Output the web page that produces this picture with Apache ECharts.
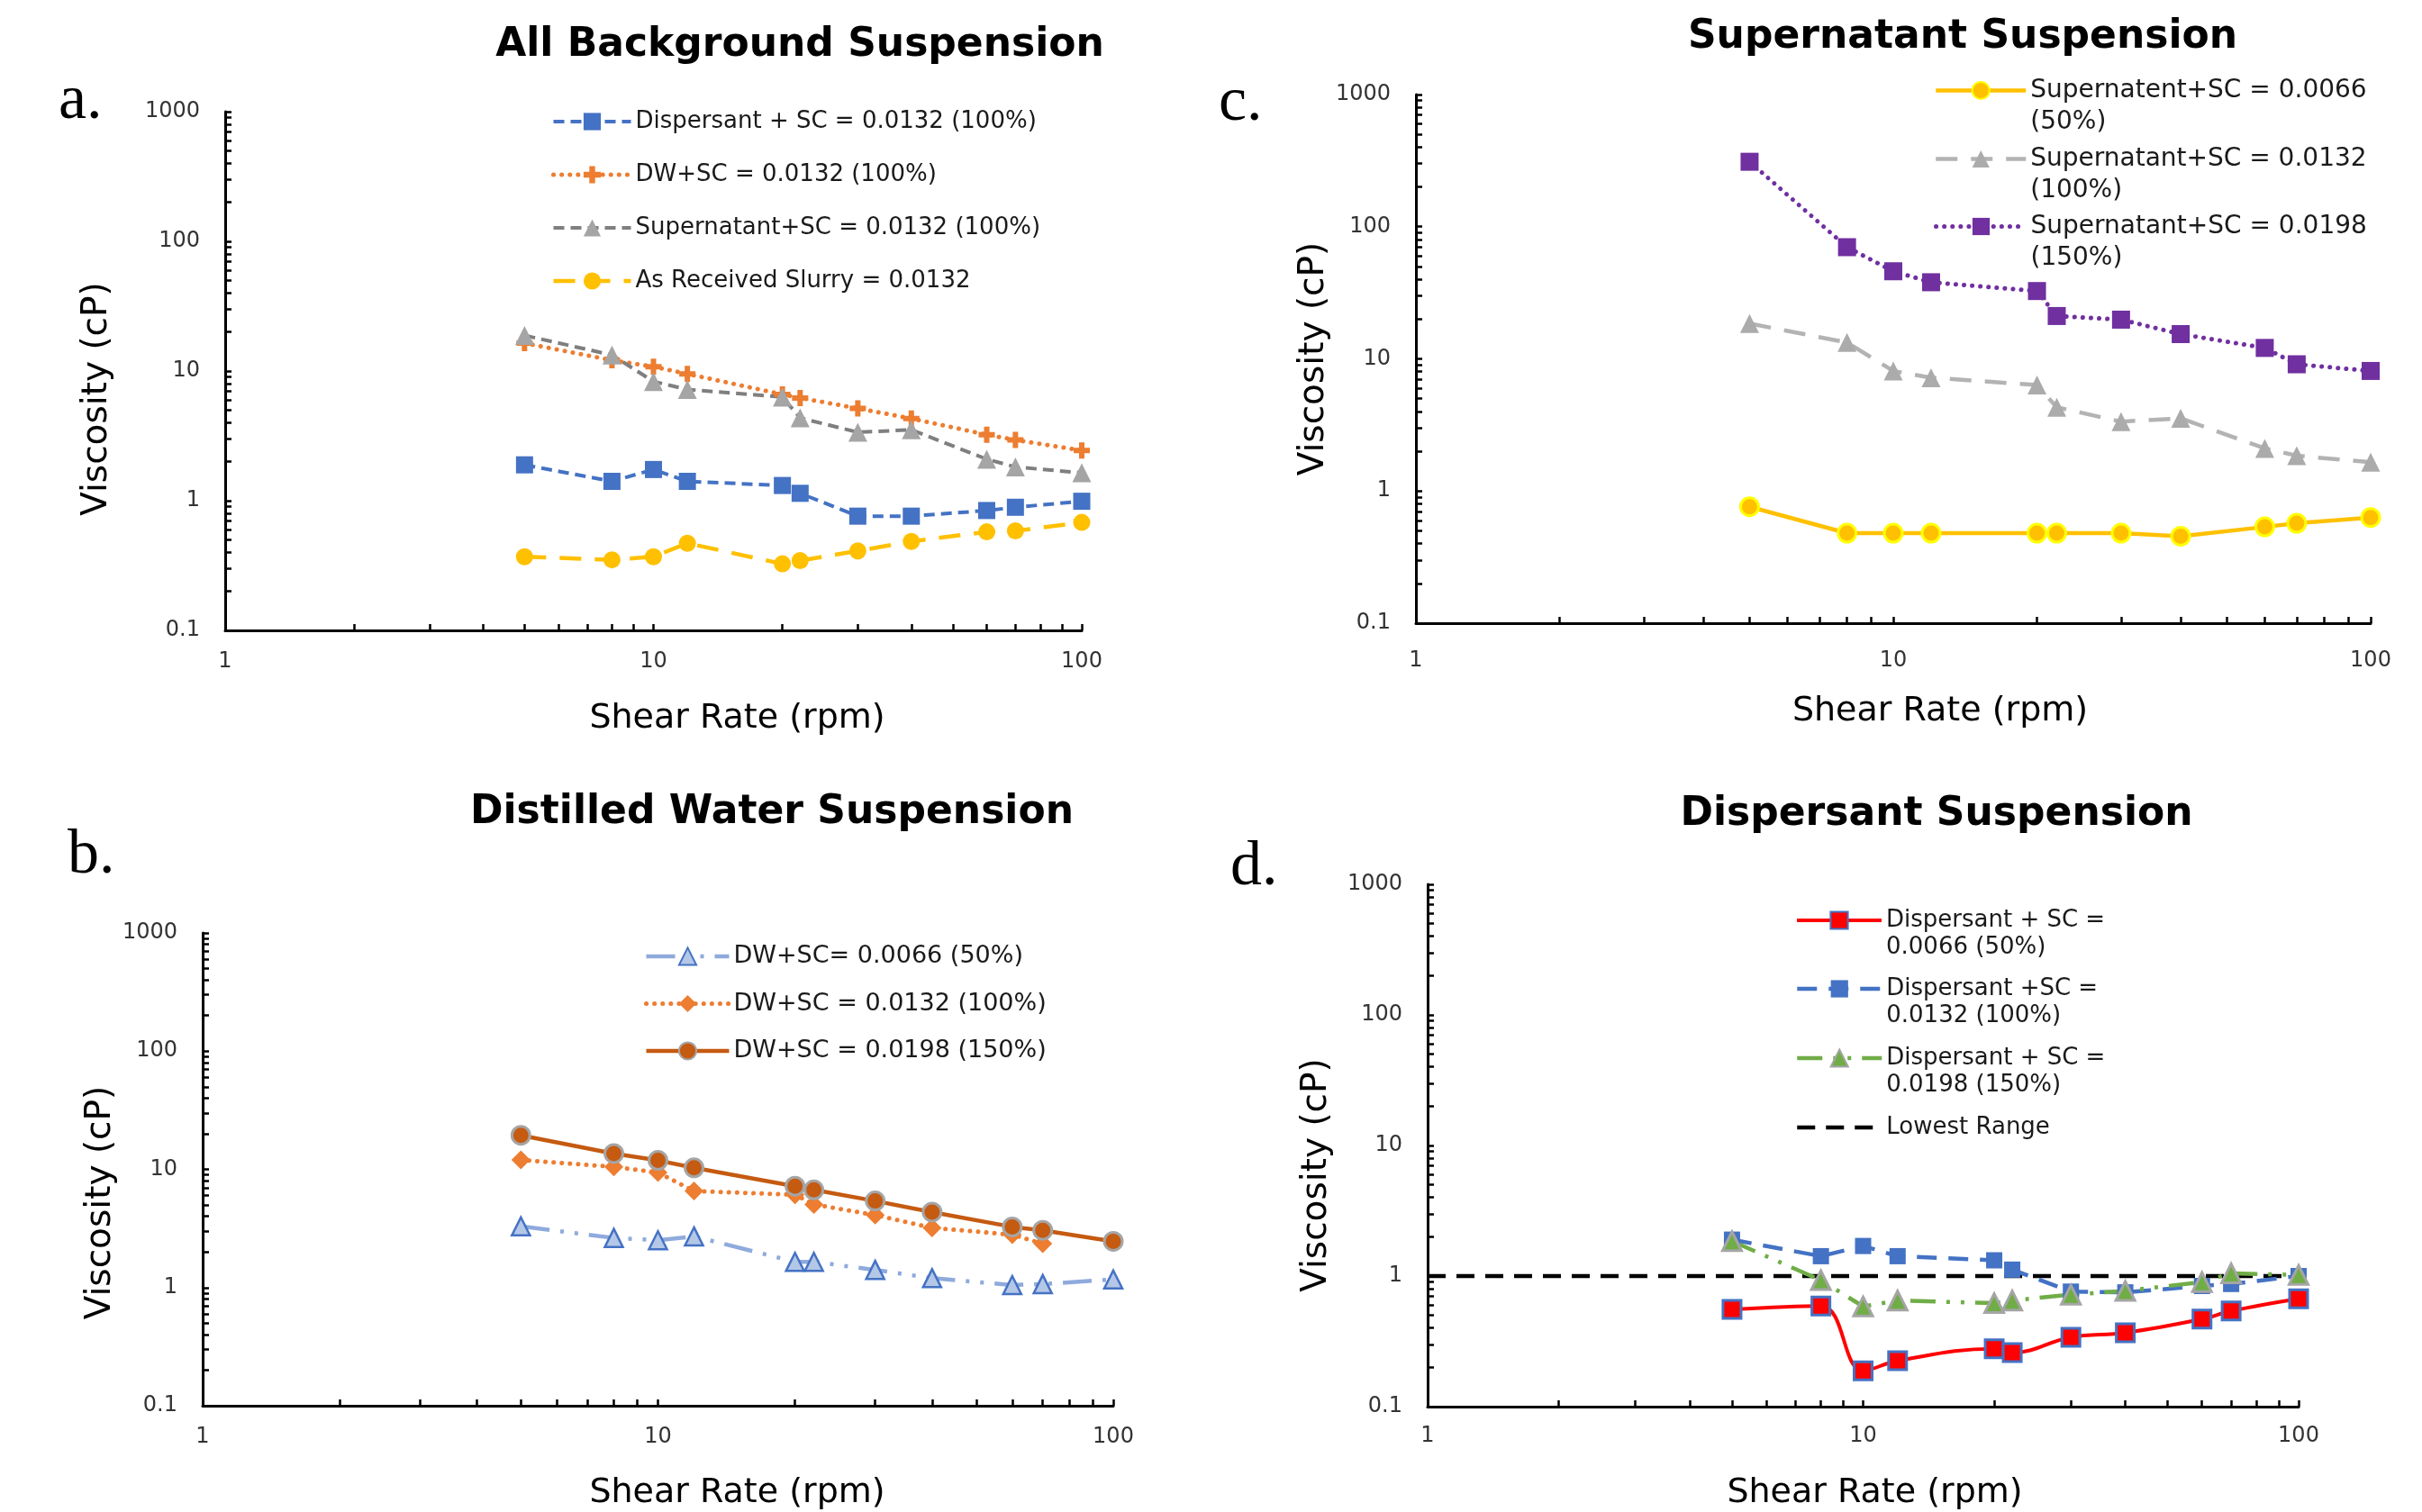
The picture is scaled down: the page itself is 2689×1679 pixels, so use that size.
<!DOCTYPE html>
<html><head><meta charset="utf-8">
<script src="https://cdn.jsdelivr.net/npm/echarts@6/dist/echarts.min.js"></script>
<style>html,body{margin:0;padding:0;background:#fff}#chart{width:2689px;height:1679px}</style>
</head><body><div id="chart"></div>
<script>
// ---------- DATA ----------
const shearRate = [5, 8, 10, 12, 20, 22, 30, 40, 60, 70, 100];

// a. All Background Suspension
const aLegend = ['Dispersant + SC = 0.0132 (100%)', 'DW+SC = 0.0132 (100%)', 'Supernatant+SC = 0.0132 (100%)', 'As Received Slurry = 0.0132'];
const aDispersant0132 = [1.89, 1.41, 1.74, 1.41, 1.31, 1.14, 0.76, 0.76, 0.84, 0.89, 0.99];
const aDW0132 = [16.4, 12.1, 10.8, 9.5, 6.6, 6.2, 5.15, 4.3, 3.23, 2.94, 2.44];
const aSupernatant0132 = [18.8, 13.3, 8.3, 7.2, 6.3, 4.35, 3.37, 3.52, 2.09, 1.82, 1.64];
const aSlurry0132 = [0.37, 0.35, 0.37, 0.47, 0.326, 0.345, 0.41, 0.485, 0.575, 0.585, 0.68];

// b. Distilled Water Suspension
const bLegend = ['DW+SC= 0.0066 (50%)', 'DW+SC = 0.0132 (100%)', 'DW+SC = 0.0198 (150%)'];
const bDW0066 = [3.3, 2.63, 2.51, 2.71, 1.65, 1.65, 1.41, 1.2, 1.05, 1.07, 1.17];
const bDW0132 = [12.0, 10.5, 9.4, 6.55, 6.1, 5.05, 4.1, 3.2, 2.8, 2.35, null];
const bDW0198 = [19.4, 13.6, 11.9, 10.3, 7.2, 6.7, 5.4, 4.35, 3.26, 3.05, 2.46];

// c. Supernatant Suspension
const cLegend = ['Supernatent+SC = 0.0066 (50%)', 'Supernatant+SC = 0.0132 (100%)', 'Supernatant+SC = 0.0198 (150%)'];
const cSup0066 = [0.76, 0.48, 0.48, 0.48, 0.48, 0.48, 0.48, 0.455, 0.535, 0.57, 0.63];
const cSup0132 = [18.5, 13.3, 8.1, 7.2, 6.35, 4.3, 3.35, 3.55, 2.1, 1.85, 1.65];
const cSup0198 = [310, 70, 46, 38, 32.6, 21.1, 19.8, 15.4, 12.1, 9.1, 8.1];

// d. Dispersant Suspension
const dLegend = ['Dispersant + SC = 0.0066 (50%)', 'Dispersant +SC = 0.0132 (100%)', 'Dispersant + SC = 0.0198 (150%)', 'Lowest Range'];
const dDisp0066 = [0.555, 0.59, 0.188, 0.225, 0.277, 0.259, 0.34, 0.368, 0.468, 0.54, 0.67];
const dDisp0132 = [1.9, 1.42, 1.7, 1.42, 1.32, 1.12, 0.76, 0.75, 0.84, 0.87, 1.0];
const dDisp0198 = [1.85, 0.93, 0.585, 0.65, 0.62, 0.65, 0.72, 0.77, 0.9, 1.05, 1.02];
const lowestRangeX = [1, 100];
const lowestRangeY = [1, 1];

// axis ticks / labels
const xTickValues = [1, 2, 3, 4, 5, 6, 7, 8, 9, 10, 20, 30, 40, 50, 60, 70, 80, 90, 100];
const xLabelValues = [1, 10, 100];
const yTickValues = [0.1, 0.2, 0.3, 0.4, 0.5, 0.6, 0.7, 0.8, 0.9, 1, 2, 3, 4, 5, 6, 7, 8, 9, 10, 20, 30, 40, 50, 60, 70, 80, 90, 100, 200, 300, 400, 500, 600, 700, 800, 900, 1000];
const yLabelValues = [0.1, 1, 10, 100, 1000];

const titles = ['All Background Suspension', 'Distilled Water Suspension', 'Supernatant Suspension', 'Dispersant Suspension'];
const panelLetters = ['a.', 'b.', 'c.', 'd.'];
const xName = 'Shear Rate (rpm)';
const yName = 'Viscosity (cP)';

// ---------- BUILD ----------
const FONT = 'DejaVu Sans';
const SUFFIX = ['#a', '#b', '#c', '#d'];
function pts(xs, ys) {
  const out = [];
  xs.forEach((x, i) => { if (ys[i] != null) out.push([x, ys[i]]); });
  return out;
}
const plusPath = 'path://M4,0H8V4H12V8H8V12H4V8H0V4H4Z';
const numFmt = v => String(+Number(v).toPrecision(6));

// grids: [left, top, width, height]
const grids = [
  [250, 124, 951, 576],   // a
  [225, 1036, 1011, 526], // b
  [1572, 105, 1060, 587], // c
  [1585, 982, 967, 581]   // d
];
const xNameCfg = [ {gap: 78, pad: 186, margin: 23}, {gap: 77, pad: 176, margin: 23}, {gap: 78, pad: 104, margin: 30}, {gap: 76, pad: 26, margin: 21} ];
const yNameCfg = [ {gap: 122, pad: 62}, {gap: 76, pad: 74}, {gap: 88, pad: 0}, {gap: 103, pad: 66} ];

const xAxes = grids.map((g, i) => ({
  type: 'log', logBase: 10, gridIndex: i, min: 1, max: 100,
  name: xName, nameLocation: 'middle', nameGap: xNameCfg[i].gap,
  nameTextStyle: { fontFamily: FONT, fontSize: 38, color: '#000', lineHeight: 40, padding: [0, 0, 0, xNameCfg[i].pad] },
  axisLine: { show: true, onZero: false, lineStyle: { color: '#000', width: 3 } },
  axisTick: { show: true, inside: true, length: 7, customValues: xTickValues, lineStyle: { color: '#000', width: 2.5 } },
  axisLabel: { show: true, customValues: xLabelValues, formatter: numFmt, margin: xNameCfg[i].margin, fontFamily: FONT, fontSize: 24, color: '#333' },
  splitLine: { show: false }, minorTick: { show: false }, minorSplitLine: { show: false }
}));
const yAxes = grids.map((g, i) => ({
  type: 'log', logBase: 10, gridIndex: i, min: 0.1, max: 1000,
  name: yName, nameLocation: 'middle', nameGap: yNameCfg[i].gap,
  nameTextStyle: { fontFamily: FONT, fontSize: 39, color: '#000', lineHeight: 40, padding: [0, yNameCfg[i].pad, 0, 0] },
  axisLine: { show: true, onZero: false, lineStyle: { color: '#000', width: 3 } },
  axisTick: { show: true, inside: true, length: 7, customValues: yTickValues, lineStyle: { color: '#000', width: 2.5 } },
  axisLabel: { show: true, customValues: yLabelValues, formatter: numFmt, margin: 28, fontFamily: FONT, fontSize: 24, color: '#333' },
  splitLine: { show: false }, minorTick: { show: false }, minorSplitLine: { show: false }
}));

function line(panel, name, ys, o) {
  return {
    type: 'line', name: name + SUFFIX[panel], xAxisIndex: panel, yAxisIndex: panel,
    data: pts(o.xs || shearRate, ys),
    symbol: o.symbol, symbolSize: o.size || 18, smooth: o.smooth || false,
    showSymbol: o.symbol !== 'none',
    lineStyle: { color: o.line, width: o.width || 4, type: o.type || 'solid', cap: o.cap || 'butt' },
    itemStyle: { color: o.fill || o.line, borderColor: o.border || o.fill || o.line, borderWidth: o.bw || 0 },
    emphasis: { disabled: true }, animation: false, z: o.z || 2
  };
}

const series = [
  // a
  line(0, aLegend[0], aDispersant0132, { line: '#4472C4', type: [12, 7], symbol: 'rect', size: 19 }),
  line(0, aLegend[1], aDW0132, { line: '#ED7D31', type: [0.1, 9], cap: 'round', width: 5, symbol: plusPath, size: 18 }),
  line(0, aLegend[2], aSupernatant0132, { line: '#7F7F7F', fill: '#A5A5A5', type: [12, 7], symbol: 'triangle', size: 21 }),
  line(0, aLegend[3], aSlurry0132, { line: '#FFC000', type: [24, 15], width: 4.5, symbol: 'circle', size: 19 }),
  // b
  line(1, bLegend[0], bDW0066, { line: '#8FAADC', fill: '#B4C7E7', border: '#4472C4', bw: 2.5, type: [32, 12, 4, 12, 4, 12], width: 4.5, symbol: 'triangle', size: 20 }),
  line(1, bLegend[1], bDW0132, { line: '#ED7D31', type: [0.1, 9], cap: 'round', width: 5, symbol: 'diamond', size: 21 }),
  line(1, bLegend[2], bDW0198, { line: '#C55A11', border: '#A5A5A5', bw: 3, width: 4.5, symbol: 'circle', size: 20 }),
  // c
  line(2, cLegend[0], cSup0066, { line: '#FFC000', fill: '#FFC000', border: '#FFFF00', bw: 3, width: 4.5, symbol: 'circle', size: 20 }),
  line(2, cLegend[1], cSup0132, { line: '#B3B3B3', fill: '#ABABAB', type: [24, 15], width: 4.5, symbol: 'triangle', size: 21 }),
  line(2, cLegend[2], cSup0198, { line: '#7030A0', type: [0.1, 9], cap: 'round', width: 5, symbol: 'rect', size: 20 }),
  // d
  line(3, dLegend[3], lowestRangeY, { xs: lowestRangeX, line: '#000', type: [20, 12], width: 4.5, symbol: 'none', z: 1 }),
  line(3, dLegend[0], dDisp0066, { line: '#FF0000', fill: '#FF0000', border: '#4472C4', bw: 3, width: 4, smooth: 0.4, symbol: 'rect', size: 20 }),
  line(3, dLegend[1], dDisp0132, { line: '#4472C4', type: [22, 13], width: 4.5, symbol: 'rect', size: 18 }),
  line(3, dLegend[2], dDisp0198, { line: '#70AD47', fill: '#70AD47', border: '#A5A5A5', bw: 3, type: [28, 12, 4, 12, 4, 12], width: 4.5, symbol: 'triangle', size: 21 })
];
const widthOf = {};
series.forEach(s => { widthOf[s.name] = s.lineStyle.width; });

const strip = n => n.split('#')[0];
function legendBlock(left, top, names, panel, o) {
  return {
    orient: 'vertical', left: left, top: top, padding: 0, selectedMode: false,
    itemWidth: o.iw, itemHeight: 24, itemGap: o.gap || 0,
    textStyle: { fontFamily: FONT, fontSize: o.fs, lineHeight: o.lh, color: '#1a1a1a' },
    formatter: o.fmt || strip,
    data: names.map(n => ({ name: n + SUFFIX[panel], lineStyle: { width: widthOf[n + SUFFIX[panel]] } }))
  };
}
// leading empty line keeps the icon level with the first text line
const wrapC = n => '\n' + strip(n).replace(' (', '\n(');
const wrapD = n => '\n' + strip(n).replace('= ', '=\n');

const legends = [
  legendBlock(612, 120, aLegend, 0, { iw: 86, fs: 26, lh: 30, gap: 29 }),
  legendBlock(715, 1047, bLegend, 1, { iw: 92, fs: 27, lh: 30, gap: 22.5 }),
  legendBlock(2147, 101 - 53, [cLegend[0]], 2, { iw: 100, fs: 28, lh: 35, fmt: wrapC }),
  legendBlock(2147, 177 - 53, [cLegend[1]], 2, { iw: 100, fs: 28, lh: 35, fmt: wrapC }),
  legendBlock(2147, 252 - 53, [cLegend[2]], 2, { iw: 100, fs: 28, lh: 35, fmt: wrapC }),
  legendBlock(1993, 1022 - 45, [dLegend[0]], 3, { iw: 94, fs: 26, lh: 30, fmt: wrapD }),
  legendBlock(1993, 1098 - 45, [dLegend[1]], 3, { iw: 94, fs: 26, lh: 30, fmt: wrapD }),
  legendBlock(1993, 1175 - 45, [dLegend[2]], 3, { iw: 94, fs: 26, lh: 30, fmt: wrapD }),
  legendBlock(1993, 1237, [dLegend[3]], 3, { iw: 94, fs: 26, lh: 30 })
];
legends[8].data[0].itemStyle = { opacity: 0 };

const titlePos = [[888, 51], [857, 903], [2179, 42], [2150, 905]];
const letterPos = [[65, 113], [75, 951], [1353, 115], [1366, 964]];
const graphic = [];
titles.forEach((t, i) => graphic.push({
  type: 'text', x: titlePos[i][0], y: titlePos[i][1], silent: true,
  style: { text: t, fontFamily: FONT, fontWeight: 'bold', fontSize: 44, fill: '#000', align: 'center', verticalAlign: 'middle' }
}));
panelLetters.forEach((t, i) => graphic.push({
  type: 'text', x: letterPos[i][0], y: letterPos[i][1], silent: true,
  style: { text: t, fontFamily: 'Liberation Serif', fontSize: 70, fill: '#000', align: 'left', verticalAlign: 'middle' }
}));

const chart = echarts.init(document.getElementById('chart'), null, { renderer: 'canvas' });
chart.setOption({
  backgroundColor: '#fff',
  animation: false,
  grid: grids.map(g => ({ left: g[0], top: g[1], width: g[2], height: g[3], containLabel: false, show: false })),
  xAxis: xAxes,
  yAxis: yAxes,
  legend: legends,
  graphic: graphic,
  series: series
});
</script></body></html>
